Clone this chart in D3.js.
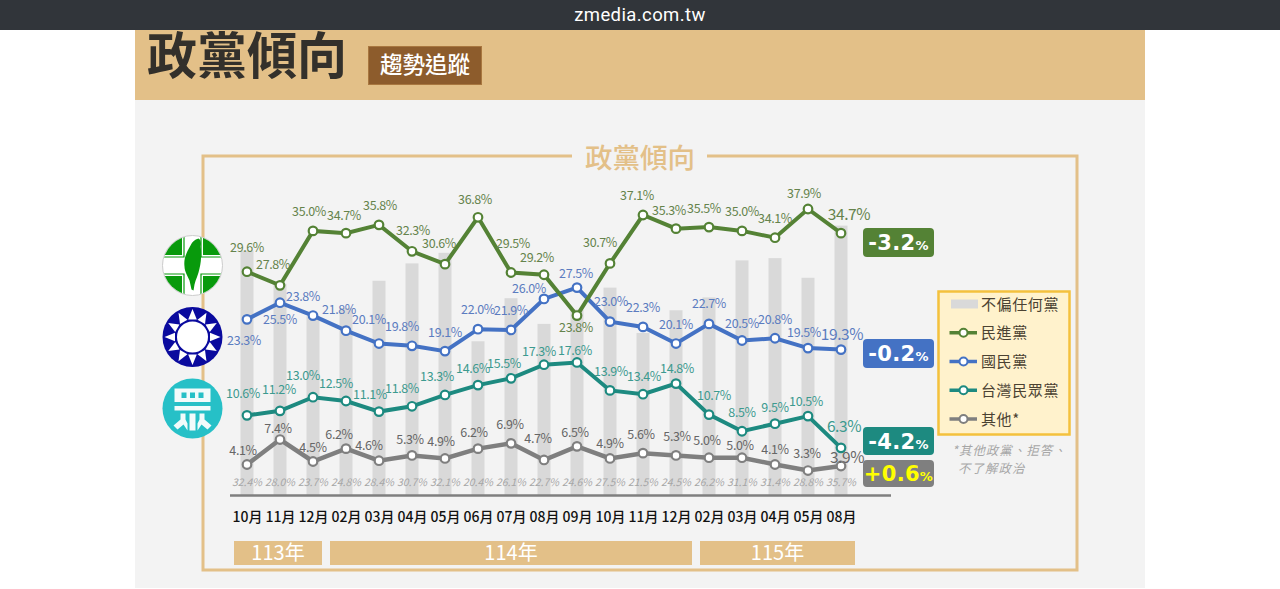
<!DOCTYPE html>
<html>
<head>
<meta charset="utf-8">
<title>政黨傾向</title>
<script src="https://cdn.jsdelivr.net/npm/d3@7"></script>
<style>
    html, body { margin: 0; background: #fff; overflow: hidden; }
    svg { display: block; font-family: "Noto Sans CJK TC", "Noto Sans", sans-serif; }
</style>
</head>
<body>
<svg id="chart"></svg>
<script>
const months = ["10月", "11月", "12月", "02月", "03月", "04月", "05月", "06月", "07月", "08月", "09月", "10月", "11月", "12月", "02月", "03月", "04月", "05月", "08月"]
const neutral = [32.4, 28.0, 23.7, 24.8, 28.4, 30.7, 32.1, 20.4, 26.1, 22.7, 24.6, 27.5, 21.5, 24.5, 26.2, 31.1, 31.4, 28.8, 35.7]
const dpp = [29.6, 27.8, 35.0, 34.7, 35.8, 32.3, 30.6, 36.8, 29.5, 29.2, 23.8, 30.7, 37.1, 35.3, 35.5, 35.0, 34.1, 37.9, 34.7]
const kmt = [23.3, 25.5, 23.8, 21.8, 20.1, 19.8, 19.1, 22.0, 21.9, 26.0, 27.5, 23.0, 22.3, 20.1, 22.7, 20.5, 20.8, 19.5, 19.3]
const tpp = [10.6, 11.2, 13.0, 12.5, 11.1, 11.8, 13.3, 14.6, 15.5, 17.3, 17.6, 13.9, 13.4, 14.8, 10.7, 8.5, 9.5, 10.5, 6.3]
const others = [4.1, 7.4, 4.5, 6.2, 4.6, 5.3, 4.9, 6.2, 6.9, 4.7, 6.5, 4.9, 5.6, 5.3, 5.0, 5.0, 4.1, 3.3, 3.9]
const yearLabels = ["113年", "114年", "115年"]
const yearFirst = [0, 3, 14]
const yearLast = [2, 13, 18]
const deltaLabels = ["-3.2", "-0.2", "-4.2", "+0.6"]
const legendLabels = ["不偏任何黨", "民進黨", "國民黨", "台灣民眾黨", "其他*"]

// label nudges from each point, placed by hand to dodge the lines
const dppNudge = [[0,-24],[-7,-21],[-4,-19],[-2,-18],[1,-19],[1,-21],[-6,-21],[-3,-18],[2,-29],[-7,-17],[-1,12],[-10,-21],[-6,-20],[-7,-18],[-5,-19],[0,-19],[0,-19],[-4,-15],[8,-19]]
const kmtNudge = [[-3,21],[0,17],[-10,-19],[-7,-21],[-10,-24],[-10,-19],[0,-19],[0,-20],[0,-19],[-15,-10],[-1,-14],[1,-20],[0,-19],[0,-19],[0,-20],[0,-17],[0,-19],[-4,-16],[1,-15]]
const tppNudge = [[-4,-22],[-1,-21.5],[-10,-22],[-10,-18],[-9,-17],[-10,-18],[-8,-18],[-5,-17],[-7,-15],[-5,-13],[-2,-12],[1,-19],[1,-18],[1,-15],[5,-19],[0,-19],[0,-16],[-2,-15],[3,-21]]
const otherNudge = [[-4,-14],[-2,-11],[0,-14],[-7,-14],[-10,-15],[-2,-16],[-4,-17],[-4,-16],[-1,-19],[-6,-21],[-2,-14],[0,-15],[-2,-19],[1,-19],[-2,-17],[-2,-12],[0,-15],[-1,-17],[6,-9]]

const colors = { dpp: "#548235", kmt: "#4472c4", tpp: "#1d8a80", other: "#7f7f7f" }
const tan = "#e3c088"

const svg = d3.select("#chart").attr("width", 1280).attr("height", 589)

const scaleX = d3.scalePoint()
    .domain(d3.range(months.length))
    .range([247, 841])

const scaleY = d3.scaleLinear()
    .domain([0, 40])
    .range([495.5, 193.1])

// page furniture
svg.append("rect").attr("x", 135).attr("y", 30).attr("width", 1010).attr("height", 558).attr("fill", "#f3f3f3")
svg.append("rect").attr("x", 135).attr("y", 30).attr("width", 1010).attr("height", 70).attr("fill", tan)
svg.append("rect").attr("width", 1280).attr("height", 30).attr("fill", "#31353a")
svg.append("text").attr("x", 640).attr("y", 20.5).attr("text-anchor", "middle")
    .attr("font-family", "Roboto").attr("font-size", 18.5).attr("letter-spacing", 0.4).attr("fill", "#fff").text("zmedia.com.tw")
svg.append("text").attr("x", 147).attr("y", 74).attr("font-size", 50).attr("font-weight", 700).attr("fill", "#33302b").text("政黨傾向")
svg.append("rect").attr("x", 368.5).attr("y", 46.5).attr("width", 113).attr("height", 38).attr("fill", "#8d5c2c").attr("stroke", "#a9773f")
svg.append("text").attr("x", 425).attr("y", 73).attr("text-anchor", "middle").attr("font-size", 22.5).attr("font-weight", 500).attr("fill", "#fff").text("趨勢追蹤")

// frame with a gap for its title
svg.append("path")
    .attr("d", "M572,156 H203 V570 H1077 V156 H707")
    .attr("fill", "none").attr("stroke", tan).attr("stroke-width", 3)
svg.append("text").attr("x", 640).attr("y", 168).attr("text-anchor", "middle").attr("font-size", 27.5).attr("font-weight", 500).attr("fill", tan).text("政黨傾向")

// bars
svg.append("g").selectAll("rect")
    .data(neutral)
    .enter().append("rect")
    .attr("x", (d, i) => scaleX(i) - 6.5)
    .attr("width", 13)
    .attr("y", d => scaleY(d))
    .attr("height", d => scaleY(0) - scaleY(d))
    .attr("fill", "#d9d9d9")

svg.append("line").attr("x1", 230).attr("x2", 891).attr("y1", 495.5).attr("y2", 495.5).attr("stroke", "#7f7f7f").attr("stroke-width", 2.5)

svg.append("g").selectAll("text")
    .data(neutral)
    .enter().append("text")
    .attr("x", (d, i) => scaleX(i))
    .attr("y", 486)
    .attr("text-anchor", "middle")
    .attr("font-size", 10.5)
    .attr("font-style", "italic")
    .attr("fill", "#a6a6a6")
    .text(d => d.toFixed(1) + "%")

const seriesList = [
    { values: others, nudge: otherNudge, color: colors.other, text: "#666", width: 4.5 },
    { values: tpp, nudge: tppNudge, color: colors.tpp, text: "#3c9a8f", width: 4 },
    { values: kmt, nudge: kmtNudge, color: colors.kmt, text: "#5b7cc0", width: 4 },
    { values: dpp, nudge: dppNudge, color: colors.dpp, text: "#65834c", width: 4 }
]

const line = d3.line()
    .x((d, i) => scaleX(i))
    .y(d => scaleY(d))

seriesList.forEach(s => {
    svg.append("path")
        .datum(s.values)
        .attr("fill", "none")
        .attr("stroke", s.color)
        .attr("stroke-width", s.width)
        .attr("d", line)

    svg.append("g").selectAll("circle")
        .data(s.values)
        .enter().append("circle")
        .attr("cx", (d, i) => scaleX(i))
        .attr("cy", d => scaleY(d))
        .attr("r", 4.3)
        .attr("fill", "#fff")
        .attr("stroke", s.color)
        .attr("stroke-width", 2.2)
})

seriesList.forEach(s => {
    svg.append("g").selectAll("text")
        .data(s.values)
        .enter().append("text")
        .attr("x", (d, i) => scaleX(i) + s.nudge[i][0])
        .attr("y", (d, i) => scaleY(d) + s.nudge[i][1])
        .attr("dy", "0.36em")
        .attr("text-anchor", "middle")
        .attr("font-size", (d, i) => i == months.length - 1 ? 15.5 : 12.5)
        .attr("letter-spacing", -0.4)
        .attr("fill", s.text)
        .text(d => d.toFixed(1) + "%")
})

// month axis
const xAxis = d3.axisBottom(scaleX)
    .tickSize(0)
    .tickFormat(i => months[i])

const axisG = svg.append("g")
    .attr("transform", "translate(0,509)")
    .call(xAxis)
axisG.select(".domain").remove()
axisG.selectAll("text")
    .attr("font-family", "\"Noto Sans CJK TC\"")
    .attr("font-size", 14)
    .attr("font-weight", 500)
    .attr("fill", "#111")

// year strips
yearLabels.forEach((label, k) => {
    const pads = [[13, 9], [16, 16], [9, 14]][k]
    const x0 = scaleX(yearFirst[k]) - pads[0]
    const x1 = scaleX(yearLast[k]) + pads[1]
    svg.append("rect").attr("x", x0).attr("y", 541).attr("width", x1 - x0).attr("height", 24).attr("fill", tan)
    svg.append("text").attr("x", (x0 + x1) / 2).attr("y", 559.5).attr("text-anchor", "middle")
        .attr("font-size", 20).attr("fill", "#fff").text(label)
})

// change badges
const badges = [
    { y: 228, h: 29, fill: colors.dpp, color: "#fff" },
    { y: 339, h: 29, fill: colors.kmt, color: "#fff" },
    { y: 427, h: 28, fill: colors.tpp, color: "#fff" },
    { y: 460, h: 27, fill: colors.other, color: "#ffff00" }
]
badges.forEach((b, k) => {
    svg.append("rect").attr("x", 863).attr("y", b.y).attr("width", 71).attr("height", b.h).attr("rx", 4).attr("fill", b.fill)
    const t = svg.append("text").attr("x", 898.5).attr("y", b.y + b.h / 2 + 7.5).attr("text-anchor", "middle")
        .attr("font-family", "\"DejaVu Sans\"").attr("font-weight", 700).attr("font-size", 21).attr("letter-spacing", 0.3).attr("fill", b.color)
    t.append("tspan").text(deltaLabels[k])
    t.append("tspan").attr("font-size", 13).text("%")
})

// legend
svg.append("rect").attr("x", 938.5).attr("y", 291.5).attr("width", 131).attr("height", 143).attr("fill", "#fff2cc").attr("stroke", "#f4c13d").attr("stroke-width", 2.5)
const legendY = d3.scalePoint().domain(d3.range(legendLabels.length)).range([304, 419])
const legendColors = [null, colors.dpp, colors.kmt, colors.tpp, colors.other]
legendLabels.forEach((label, k) => {
    const y = legendY(k)
    if (k == 0) {
        svg.append("rect").attr("x", 951).attr("y", y - 4.5).attr("width", 27).attr("height", 9).attr("fill", "#d9d9d9")
    } else {
        svg.append("line").attr("x1", 949.5).attr("x2", 977).attr("y1", y).attr("y2", y).attr("stroke", legendColors[k]).attr("stroke-width", 3.5)
        svg.append("circle").attr("cx", 963.5).attr("cy", y).attr("r", 4).attr("fill", "#fff").attr("stroke", legendColors[k]).attr("stroke-width", 2)
    }
    svg.append("text").attr("x", 981).attr("y", y + 5.5).attr("font-size", 15).attr("letter-spacing", 0.6).attr("fill", "#4b4232").text(label)
})
const note = svg.append("text").attr("font-size", 12.4).attr("letter-spacing", 1.1).attr("font-style", "italic").attr("fill", "#a6a6a6")
note.append("tspan").attr("x", 952).attr("y", 454.5).text("*其他政黨、拒答、")
note.append("tspan").attr("x", 958).attr("y", 472.5).text("不了解政治")

// party logos
const dppLogo = svg.append("g").attr("transform", "translate(192.5,265.5)")
dppLogo.append("clipPath").attr("id", "dppClip").append("circle").attr("r", 29.5)
dppLogo.append("circle").attr("r", 30).attr("fill", "#fff").attr("stroke", "#ccc")
const corners = dppLogo.append("g").attr("clip-path", "url(#dppClip)")
;[[-1, -1], [1, -1], [-1, 1], [1, 1]].forEach(c => {
    const rx = c[0] < 0 ? -40 : 10.5
    const ry = c[1] < 0 ? -40 : 10.5
    corners.append("rect").attr("x", rx).attr("y", ry).attr("width", 29.5).attr("height", 29.5).attr("fill", "#089a0c")
    corners.append("path")
        .attr("d", "M" + c[0] * 8.5 + "," + c[1] * 30 + " V" + c[1] * 8.5 + " H" + c[0] * 30)
        .attr("fill", "none").attr("stroke", "#089a0c").attr("stroke-width", 1.2)
})
dppLogo.append("path")
    .attr("d", "M6,-27 C2,-26 0,-24 -2,-20 C-6,-13 -9,-7 -8,1 C-8,6 -5,10 -3,15 L-1,24 L1,25 L2,19 C3,14 6,9 7,3 C9,-5 9,-14 8,-19 C9,-23 8,-26 6,-27 Z")
    .attr("fill", "#089a0c")

const kmtLogo = svg.append("g").attr("transform", "translate(192.5,337)")
kmtLogo.append("circle").attr("r", 30).attr("fill", "#0a0a9e")
d3.range(12).forEach(k => {
    kmtLogo.append("path")
        .attr("d", "M-4.3,-17.5 L0,-28 L4.3,-17.5 Z")
        .attr("transform", "rotate(" + k * 30 + ")")
        .attr("fill", "#fff")
})
kmtLogo.append("circle").attr("r", 15.5).attr("fill", "#fff")

const tppLogo = svg.append("g").attr("transform", "translate(192.5,408.5)")
tppLogo.append("circle").attr("r", 30).attr("fill", "#26c0c7")
tppLogo.append("rect").attr("x", -18).attr("y", -20).attr("width", 36).attr("height", 13.5).attr("fill", "#f2fbfb")
;[-11, -2.5, 6].forEach(hx => {
    tppLogo.append("rect").attr("x", hx).attr("y", -16).attr("width", 5).attr("height", 5.5).attr("fill", "#26c0c7")
})
tppLogo.append("rect").attr("x", -18).attr("y", -2.5).attr("width", 36).attr("height", 4.5).attr("fill", "#f2fbfb")
tppLogo.append("rect").attr("x", -3).attr("y", 5).attr("width", 6).attr("height", 17).attr("fill", "#f2fbfb")
tppLogo.append("path").attr("d", "M-12,5 H-7 V11 L-5,15 V22 L-9,16 L-15,21 L-19,17 L-12,11 Z").attr("fill", "#f2fbfb")
tppLogo.append("path").attr("d", "M12,5 H7 V11 L5,15 V22 L9,16 L15,21 L19,17 L12,11 Z").attr("fill", "#f2fbfb")
</script>
</body>
</html>
